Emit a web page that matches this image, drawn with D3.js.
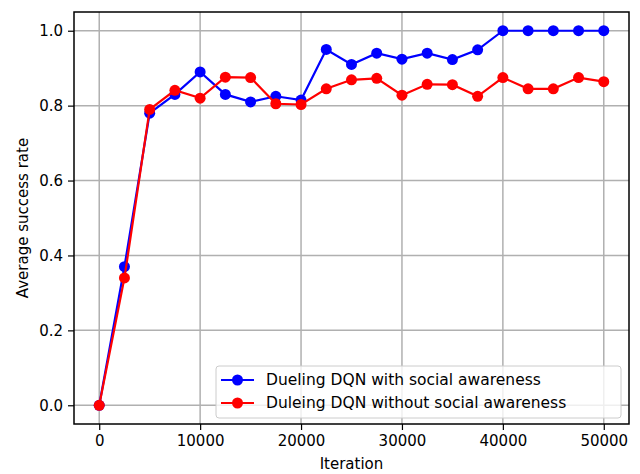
<!DOCTYPE html>
<html>
<head>
<meta charset="utf-8">
<script src="https://cdn.jsdelivr.net/npm/d3@7"></script>
<style>
  body { margin: 0; background: #fff; }
  text { font-family: "DejaVu Sans", sans-serif; }
</style>
</head>
<body>
<svg id="chart" width="640" height="474"></svg>
<script>
// data
var iterations = [0, 2500, 5000, 7500, 10000, 12500, 15000, 17500, 20000, 22500, 25000,
  27500, 30000, 32500, 35000, 37500, 40000, 42500, 45000, 47500, 50000];
var withSocial = [0.0, 0.37, 0.78, 0.83, 0.89, 0.83, 0.81, 0.825, 0.815, 0.95, 0.91,
  0.94, 0.924, 0.94, 0.923, 0.949, 1.0, 1.0, 1.0, 1.0, 1.0];
var withoutSocial = [0.0, 0.34, 0.79, 0.841, 0.82, 0.876, 0.875, 0.805, 0.803, 0.845, 0.869,
  0.873, 0.828, 0.857, 0.856, 0.825, 0.875, 0.845, 0.845, 0.875, 0.864];
var xTicks = [0, 10000, 20000, 30000, 40000, 50000];
var yTicks = [0.0, 0.2, 0.4, 0.6, 0.8, 1.0];
var seriesNames = ["Dueling DQN with social awareness", "Duleing DQN without social awareness"];
var seriesColors = ["#0000ff", "#ff0000"];

var margin = { left: 74, right: 11, top: 12, bottom: 50 };
var width = 640 - margin.left - margin.right;
var height = 474 - margin.top - margin.bottom;

var svg = d3.select("#chart");
var g = svg.append("g").attr("transform", "translate(" + margin.left + "," + margin.top + ")");

var x = d3.scaleLinear().domain([-2500, 52500]).range([0, width]);
var y = d3.scaleLinear().domain([-0.05, 1.05]).range([height, 0]);

// grid
g.append("g").selectAll("line").data(xTicks).enter().append("line")
  .attr("x1", function (d) { return x(d); }).attr("x2", function (d) { return x(d); })
  .attr("y1", 0).attr("y2", height)
  .attr("stroke", "#b0b0b0").attr("stroke-width", 1.5);
g.append("g").selectAll("line").data(yTicks).enter().append("line")
  .attr("y1", function (d) { return y(d); }).attr("y2", function (d) { return y(d); })
  .attr("x1", 0).attr("x2", width)
  .attr("stroke", "#b0b0b0").attr("stroke-width", 1.5);

// axes
var xAxis = g.append("g").attr("transform", "translate(0," + height + ")")
  .call(d3.axisBottom(x).tickValues(xTicks).tickSize(6).tickPadding(5).tickFormat(d3.format("d")));
var yAxis = g.append("g")
  .call(d3.axisLeft(y).tickValues(yTicks).tickSize(6).tickPadding(5).tickFormat(d3.format(".1f")));
[xAxis, yAxis].forEach(function (a) {
  a.select(".domain").remove();
  a.selectAll(".tick line").attr("stroke", "#000").attr("stroke-width", 1.2);
  a.selectAll(".tick text").attr("font-size", 15).attr("fill", "#000")
    .style("font-family", "DejaVu Sans, sans-serif");
});

// frame
g.append("rect").attr("width", width).attr("height", height)
  .attr("fill", "none").attr("stroke", "#000").attr("stroke-width", 1.5);

var line = d3.line()
  .x(function (d) { return x(d[0]); })
  .y(function (d) { return y(d[1]); });

[withSocial, withoutSocial].forEach(function (vals, i) {
  var pts = iterations.map(function (it, j) { return [it, vals[j]]; });
  g.append("path").datum(pts)
    .attr("d", line).attr("fill", "none")
    .attr("stroke", seriesColors[i]).attr("stroke-width", 2.2);
  g.append("g").selectAll("circle").data(pts).enter().append("circle")
    .attr("cx", function (d) { return x(d[0]); })
    .attr("cy", function (d) { return y(d[1]); })
    .attr("r", 5.5).attr("fill", seriesColors[i]);
});

// legend
var lg = svg.append("g").attr("transform", "translate(216,366)");
lg.append("rect").attr("width", 405).attr("height", 52).attr("rx", 3)
  .attr("fill", "#fff").attr("fill-opacity", 0.8).attr("stroke", "#cccccc");
seriesNames.forEach(function (name, i) {
  var yy = 14 + i * 23;
  lg.append("line").attr("x1", 5).attr("x2", 38).attr("y1", yy).attr("y2", yy)
    .attr("stroke", seriesColors[i]).attr("stroke-width", 2.2);
  lg.append("circle").attr("cx", 21.5).attr("cy", yy).attr("r", 5.5).attr("fill", seriesColors[i]);
  lg.append("text").attr("x", 50).attr("y", yy).attr("dy", "0.35em")
    .attr("font-size", 15.5).text(name);
});

// axis labels
svg.append("text").attr("x", margin.left + x(25000)).attr("y", 469)
  .attr("text-anchor", "middle").attr("font-size", 15).text("Iteration");
svg.append("text").attr("transform", "translate(28," + (margin.top + height / 2) + ") rotate(-90)")
  .attr("text-anchor", "middle").attr("font-size", 15).text("Average success rate");
</script>
</body>
</html>
